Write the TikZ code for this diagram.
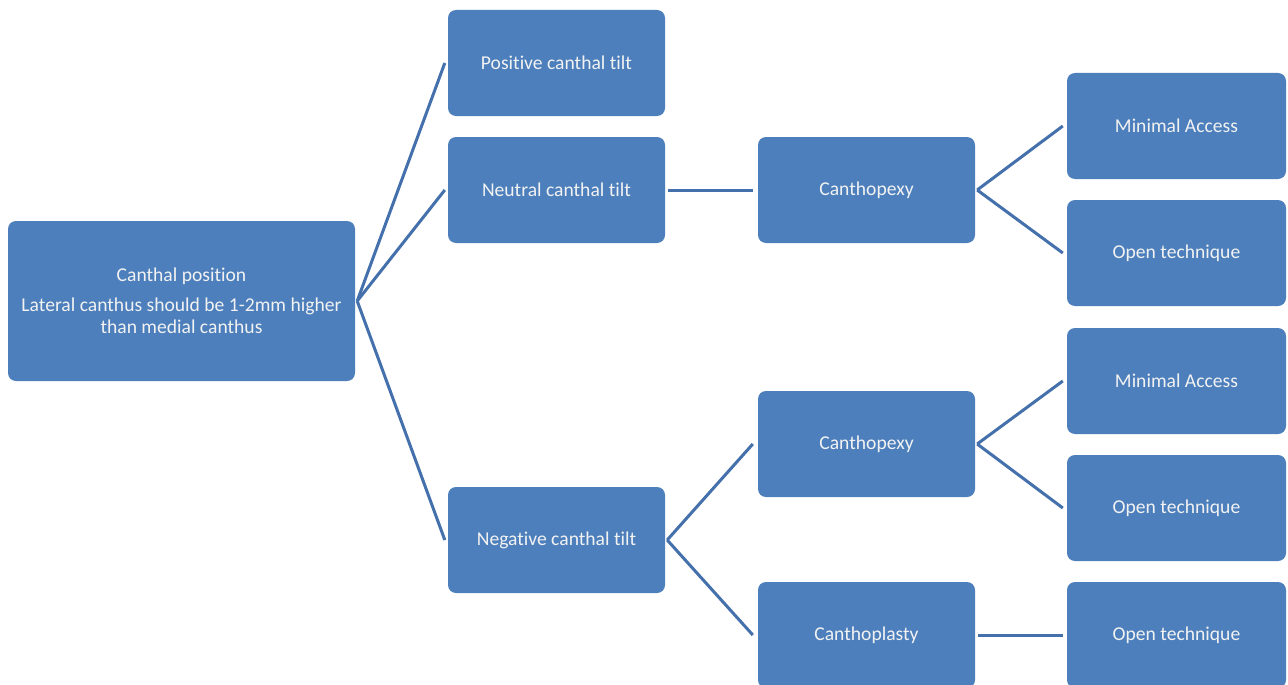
\documentclass[tikz,border=0pt]{standalone}
\usepackage{fontspec}
\setmainfont[Ligatures=NoCommon]{Carlito}
\definecolor{boxblue}{HTML}{4C7FBC}
\definecolor{lineblue}{HTML}{4470AC}
\definecolor{txt}{HTML}{F2F2F2}
\begin{document}
\begin{tikzpicture}[x=1pt,y=-1pt,
  box/.style={draw=none,fill=boxblue,rounded corners=8pt,minimum width=217pt,minimum height=106pt,inner sep=0pt,text=txt,font=\fontsize{19.6}{22}\selectfont,align=center},
  conn/.style={draw=lineblue,line width=3pt}]
\path[use as bounding box,fill=white] (0,0) rectangle (1288,685);
\clip (0,0) rectangle (1288,685);
\node[box,minimum width=347pt,minimum height=160pt] (root) at (181.5,301) {Canthal position\\[8pt]Lateral canthus should be 1-2mm higher\\than medial canthus};
\node[box] (pos) at (556.5,63) {Positive canthal tilt};
\node[box] (neu) at (556.5,190) {Neutral canthal tilt};
\node[box] (neg) at (556.5,540) {Negative canthal tilt};
\node[box] (cp1) at (866.5,190) {Canthopexy};
\node[box] (cp2) at (866.5,444) {Canthopexy};
\node[box] (cpl) at (866.5,635) {Canthoplasty};
\node[box,minimum width=219pt] (ma1) at (1176.5,126) {Minimal Access};
\node[box,minimum width=219pt] (ot1) at (1176.5,253) {Open technique};
\node[box,minimum width=219pt] (ma2) at (1176.5,381) {Minimal Access};
\node[box,minimum width=219pt] (ot2) at (1176.5,508) {Open technique};
\node[box,minimum width=219pt] (ot3) at (1176.5,635) {Open technique};
\coordinate (r) at ([xshift=2pt]root.east);
\draw[conn] (r) -- ([xshift=-3pt]pos.west);
\draw[conn] (r) -- ([xshift=-3pt]neu.west);
\draw[conn] (r) -- ([xshift=-3pt]neg.west);
\draw[conn] ([xshift=3pt]neu.east) -- ([xshift=-5pt]cp1.west);
\draw[conn] ([xshift=2pt]cp1.east) -- ([xshift=-4pt]ma1.west);
\draw[conn] ([xshift=2pt]cp1.east) -- ([xshift=-4pt]ot1.west);
\draw[conn] ([xshift=2pt]neg.east) -- ([xshift=-5pt]cp2.west);
\draw[conn] ([xshift=2pt]neg.east) -- ([xshift=-5pt]cpl.west);
\draw[conn] ([xshift=2pt]cp2.east) -- ([xshift=-4pt]ma2.west);
\draw[conn] ([xshift=2pt]cp2.east) -- ([xshift=-4pt]ot2.west);
\draw[conn] ([xshift=3pt]cpl.east) -- ([xshift=-4pt]ot3.west);
\end{tikzpicture}
\end{document}
